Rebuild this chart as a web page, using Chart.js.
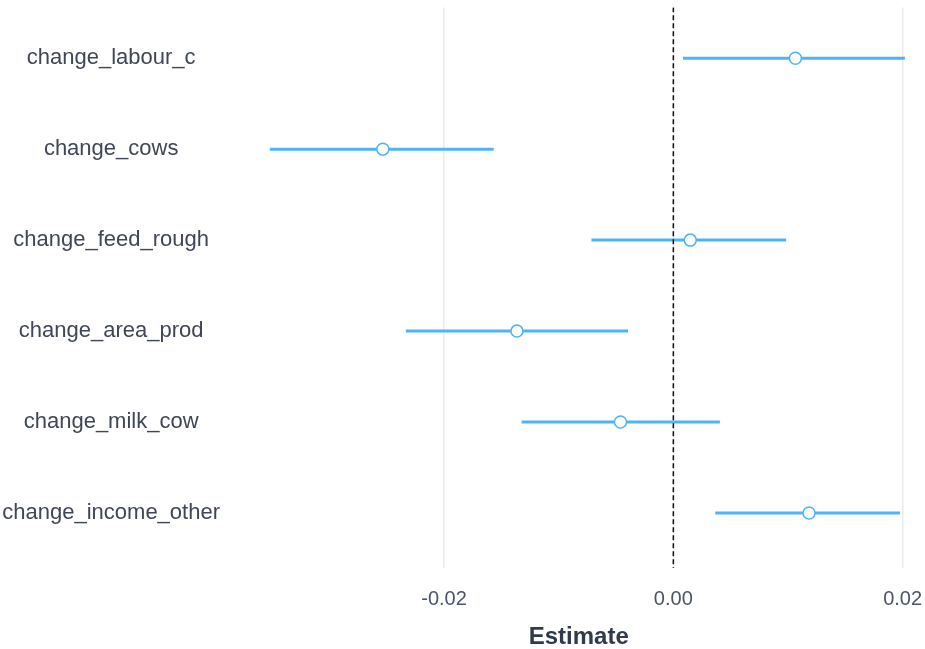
<!DOCTYPE html>
<html>
<head>
<meta charset="utf-8">
<script src="https://cdn.jsdelivr.net/npm/chart.js@4"></script>
<style>
  html, body { margin:0; padding:0; background:#fff; overflow:hidden; }
  #wrap { width:925px; height:649px; }
</style>
</head>
<body>
<div id="wrap"><canvas id="coefC"></canvas></div>
<script>
// coefficient plot: estimate with interval per term
const terms    = ['change_labour_c','change_cows','change_feed_rough','change_area_prod','change_milk_cow','change_income_other'];
const estimate = [ 0.01065, -0.02534,  0.00148, -0.01364, -0.00461,  0.01184];
const lower    = [ 0.00084, -0.03520, -0.00714, -0.02333, -0.01323,  0.00366];
const upper    = [ 0.02020, -0.01567,  0.00984, -0.00395,  0.00406,  0.01977];
const xTicks   = [-0.02, 0.00, 0.02];

const BLUE = '#4db4fb';

const intervalSets = terms.map((t, i) => ({
  type:'line', label:t, order:2,
  data:[{x:lower[i], y:i+1}, {x:upper[i], y:i+1}],
  borderColor:BLUE, borderWidth:3, pointRadius:0, borderCapStyle:'butt'
}));

const zeroLine = {
  type:'line', label:'zero', order:1,
  data:[{x:0, y:0}, {x:0, y:7}],
  borderColor:'#111', borderWidth:1.5, borderDash:[5,3], pointRadius:0
};

const pointSet = {
  type:'scatter', label:'Estimate', order:0,
  data: estimate.map((v, i) => ({x:v, y:i+1})),
  pointRadius:6, pointHoverRadius:6, pointBackgroundColor:'#fff',
  pointBorderColor:BLUE, pointBorderWidth:1.5
};

const noPad = s => { s.paddingTop = 0; s.paddingBottom = 0; s.paddingLeft = 0; s.paddingRight = 0; };

new Chart(document.getElementById('coefC'), {
  type:'scatter',
  data:{ datasets:[pointSet, zeroLine, ...intervalSets] },
  options:{
    responsive:true, maintainAspectRatio:false, animation:false,
    layout:{ padding:0 },
    plugins:{ legend:{display:false}, tooltip:{enabled:false} },
    scales:{
      x:{
        type:'linear', min:-0.0378, max:0.0213,
        afterBuildTicks: s => { s.ticks = xTicks.map(v => ({value:v})); },
        afterFit: s => { noPad(s); s.height = 81; },
        ticks:{ color:'#4a5568', font:{family:'Liberation Sans, Arial, sans-serif', size:20}, padding:19,
                maxRotation:0, callback: v => v.toFixed(2) },
        grid:{ color:'#ebebeb', lineWidth:1.5, drawTicks:false },
        border:{ display:false },
        title:{ display:true, text:'Estimate', color:'#2f3b4c',
                font:{family:'Liberation Sans, Arial, sans-serif', size:24, weight:'bold', lineHeight:1},
                padding:{top:14, bottom:0} }
      },
      y:{
        type:'linear', reverse:true, min:0.443, max:6.604,
        afterBuildTicks: s => { s.ticks = terms.map((t, i) => ({value:i+1})); },
        afterFit: s => { noPad(s); s.width = 240; },
        ticks:{ color:'#3f4655', font:{family:'Liberation Sans, Arial, sans-serif', size:22}, padding:20,
                crossAlign:'center', callback: v => terms[Math.round(v)-1] },
        grid:{ display:false, drawTicks:false },
        border:{ display:false }
      }
    }
  }
});
</script>
</body>
</html>
